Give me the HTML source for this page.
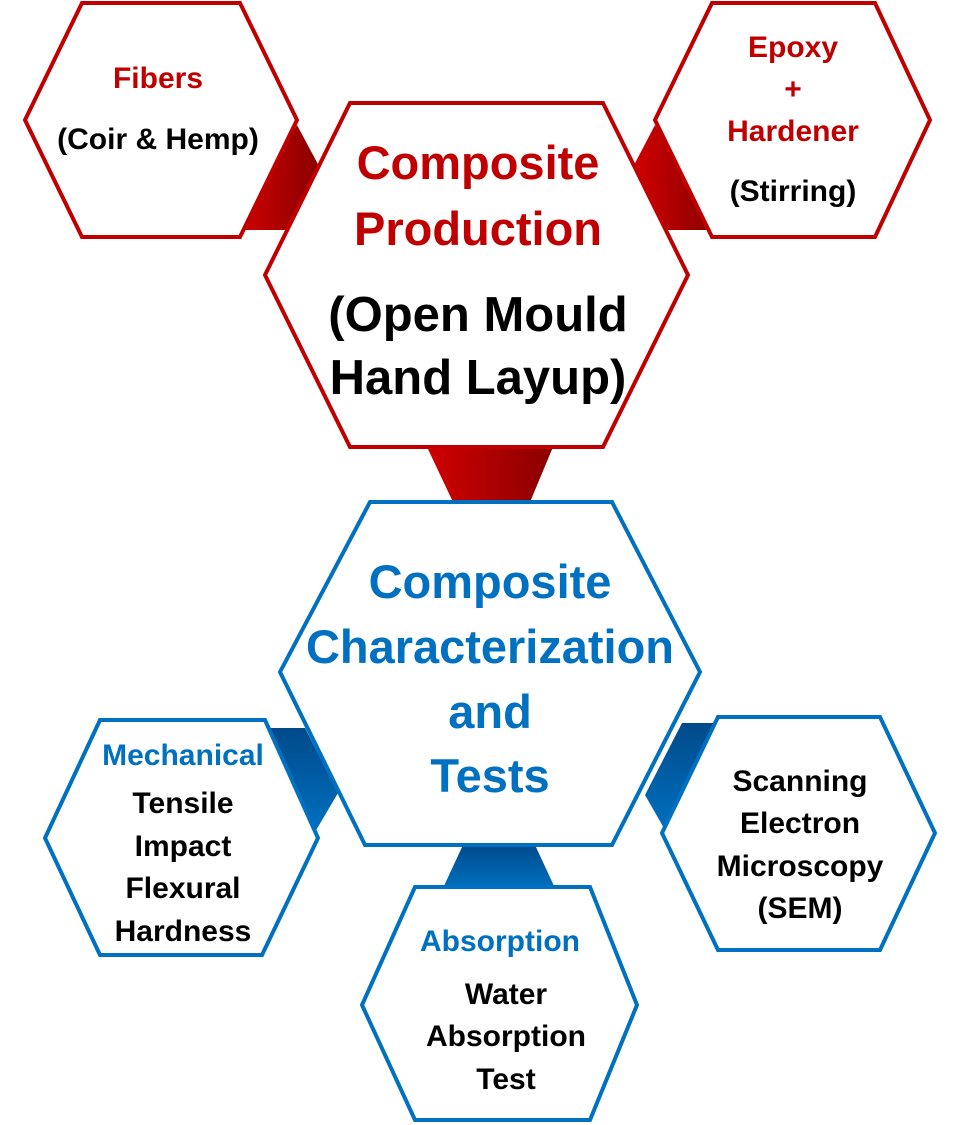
<!DOCTYPE html>
<html><head><meta charset="utf-8"><style>
html,body{margin:0;padding:0;background:#fff;width:962px;height:1125px;overflow:hidden}
svg{display:block}
text{font-family:"Liberation Sans",sans-serif;font-weight:bold;text-anchor:middle}
</style></head><body>
<svg width="962" height="1125" viewBox="0 0 962 1125">
<defs>
<linearGradient id="rg" x1="0" y1="0" x2="1" y2="0"><stop offset="0" stop-color="#d00000"/><stop offset="1" stop-color="#8a0000"/></linearGradient>
<linearGradient id="bg" x1="0" y1="0" x2="0" y2="1"><stop offset="0" stop-color="#004a8a"/><stop offset="1" stop-color="#0070c0"/></linearGradient>
</defs>
<polygon points="297,125 320,168 292,230 238,230" fill="url(#rg)"/>
<polygon points="655,125 634,165 664,230 714,230" fill="url(#rg)"/>
<polygon points="427,447 553,447 530,502 453,502" fill="url(#rg)"/>
<polygon points="263,728 305,728 338,793 315,832" fill="url(#bg)"/>
<polygon points="682,723 718,723 665,830 645,795" fill="url(#bg)"/>
<polygon points="463,845 535,845 555,888 443,888" fill="url(#bg)"/>
<g fill="#fff" stroke="#c00000" stroke-width="4" stroke-linejoin="miter">
<polygon points="82,3 240,3 297,120 240,237 82,237 25,120"/>
<polygon points="712,3 875,3 930,120 875,237 712,237 655,120"/>
<polygon points="350,103 603,103 688,275 603,447 350,447 265,275"/>
</g>
<g fill="#fff" stroke="#0070c0" stroke-width="4">
<polygon points="370,502 612,502 700,672 612,845 365,845 280,672"/>
<polygon points="100,720 265,720 318,838 262,955 100,955 45,838"/>
<polygon points="718,717 880,717 935,833 880,950 718,950 662,833"/>
<polygon points="415,887 590,887 637,1005 590,1120 415,1120 362,1005"/>
</g>
<g font-size="30">
<text x="158" y="88" fill="#c00000">Fibers</text>
<text x="158" y="149" fill="#000">(Coir &amp; Hemp)</text>
<text x="793" y="57" fill="#c00000">Epoxy</text>
<text x="793" y="99" fill="#c00000">+</text>
<text x="793" y="141" fill="#c00000">Hardener</text>
<text x="793" y="201" fill="#000">(Stirring)</text>
</g>
<g>
<text x="478" y="179" fill="#c00000" font-size="47">Composite</text>
<text x="478" y="245" fill="#c00000" font-size="47">Production</text>
<text x="478" y="331" fill="#000" font-size="49">(Open Mould</text>
<text x="478" y="394" fill="#000" font-size="49">Hand Layup)</text>
</g>
<g font-size="47" fill="#0070c0">
<text x="490" y="598">Composite</text>
<text x="490" y="663" textLength="368" lengthAdjust="spacingAndGlyphs">Characterization</text>
<text x="490" y="728">and</text>
<text x="490" y="792">Tests</text>
</g>
<g font-size="30">
<text x="183" y="765" fill="#0070c0">Mechanical</text>
<text x="183" y="813">Tensile</text>
<text x="183" y="856">Impact</text>
<text x="183" y="898">Flexural</text>
<text x="183" y="941">Hardness</text>
<text x="800" y="791">Scanning</text>
<text x="800" y="833">Electron</text>
<text x="800" y="876">Microscopy</text>
<text x="800" y="918">(SEM)</text>
<text x="500" y="951" fill="#0070c0">Absorption</text>
<text x="506" y="1004">Water</text>
<text x="506" y="1046">Absorption</text>
<text x="506" y="1089">Test</text>
</g>
</svg>
</body></html>
